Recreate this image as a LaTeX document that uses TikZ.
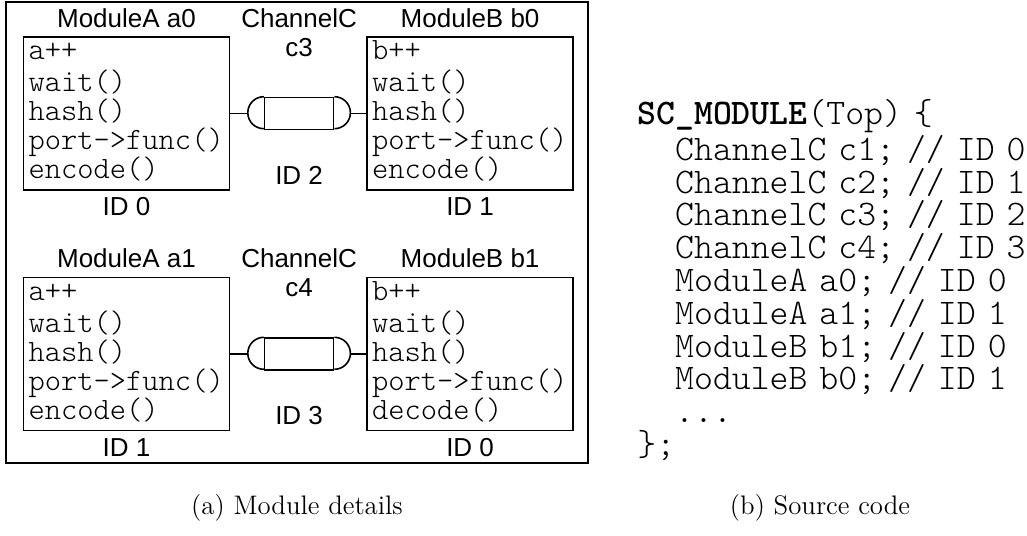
\documentclass[tikz,border=0pt]{standalone}
\usepackage{fontspec}
\setsansfont{Liberation Sans}
\setmonofont{lmmonolt10-regular.otf}[BoldFont=lmmonolt10-bold.otf]
\usetikzlibrary{positioning}
\newcommand{\modfont}{\ttfamily\fontsize{15.5}{14.5}\selectfont}
\newcommand{\srcfont}{\ttfamily\fontsize{18}{16.4}\selectfont}
\newcommand{\ind}{\hspace*{1.05em}}
\tikzstyle{modbox} = [draw,thick,text width=98pt,inner xsep=2.5pt,inner ysep=0pt,minimum height=76.5pt,align=left,font=\modfont]
\tikzstyle{chan} = [draw,thick,minimum width=34.5pt,minimum height=16pt,inner sep=0pt]
\tikzstyle{lbl} = [font=\sffamily\fontsize{13}{15}\selectfont,inner sep=0pt,anchor=base]
\tikzstyle{wire} = [draw,thick]

\begin{document}
\begin{tikzpicture}[x=0.5pt,y=-0.5pt,node distance=68pt]
   \useasboundingbox (0,0) rectangle (1027,535);
   \draw[thick] (6,2) rectangle (588,463);

   % modules
   \node[modbox] (a0) at (126.5,113.5) {\strut a++\\wait()\\hash()\\port->func()\\encode()\strut};
   \node[modbox] (b0) [right=of a0] {\strut b++\\wait()\\hash()\\port->func()\\encode()\strut};
   \node[modbox] (a1) [below=43pt of a0] {\strut a++\\wait()\\hash()\\port->func()\\encode()\strut};
   \node[modbox] (b1) [right=of a1] {\strut b++\\wait()\\hash()\\port->func()\\decode()\strut};

   % channels
   \node[chan] (c3) [right=16.75pt of a0] {};
   \node[chan] (c4) [right=16.75pt of a1] {};
   \foreach \c in {c3,c4} {
     \draw[thick] (\c.north west) arc[start angle=90,end angle=270,radius=8pt];
     \draw[thick] (\c.north east) arc[start angle=90,end angle=-90,radius=8pt];
   }
   \path[wire,shorten >=8pt] (a0) -- (c3);
   \path[wire,shorten <=8pt] (c3) -- (b0);
   \path[wire,shorten >=8pt] (a1) -- (c4);
   \path[wire,shorten <=8pt] (c4) -- (b1);

   % labels
   \node[lbl] (a0name) at ([yshift=4.5pt]a0.north) {ModuleA a0};
   \node[lbl] (b0name) at ([yshift=4.5pt]b0.north) {ModuleB b0};
   \node[lbl] (a1name) at ([yshift=4.5pt]a1.north) {ModuleA a1};
   \node[lbl] (b1name) at ([yshift=4.5pt]b1.north) {ModuleB b1};
   \node[lbl] (a0id) at ([yshift=-12.5pt]a0.south) {ID 0};
   \node[lbl] (b0id) at ([yshift=-12.5pt]b0.south) {ID 1};
   \node[lbl] (a1id) at ([yshift=-12.5pt]a1.south) {ID 1};
   \node[lbl] (b1id) at ([yshift=-12.5pt]b1.south) {ID 0};
   \node[lbl] (c3type) at (a0name.base -| c3) {ChannelC};
   \node[lbl] (c3name) at ([yshift=-14.5pt]c3type.base) {c3};
   \node[lbl] (c3id) at ([yshift=3.25pt]a0.south -| c3) {ID 2};
   \node[lbl] (c4type) at (a1name.base -| c4) {ChannelC};
   \node[lbl] (c4name) at ([yshift=-14.5pt]c4type.base) {c4};
   \node[lbl] (c4id) at ([yshift=3.25pt]a1.south -| c4) {ID 3};

   % source
   \node[font=\srcfont,text width=390pt,align=left,inner sep=0pt,anchor=base west] (src) at (637,125) {%
     \textbf{SC\_MODULE}(Top) \{\\
     \ind ChannelC c1; // ID 0\\
     \ind ChannelC c2; // ID 1\\
     \ind ChannelC c3; // ID 2\\
     \ind ChannelC c4; // ID 3\\
     \ind ModuleA a0; // ID 0\\
     \ind ModuleA a1; // ID 1\\
     \ind ModuleB b1; // ID 0\\
     \ind ModuleB b0; // ID 1\\
     \ind ...\\
     \};};

   % captions
   \node[font=\fontsize{13.4}{16}\selectfont,inner sep=0pt,anchor=base] (capa) at (297,514) {(a) Module details};
   \node[font=\fontsize{13.4}{16}\selectfont,inner sep=0pt,anchor=base] (capb) at (820,514) {(b) Source code};
\end{tikzpicture}
\end{document}
